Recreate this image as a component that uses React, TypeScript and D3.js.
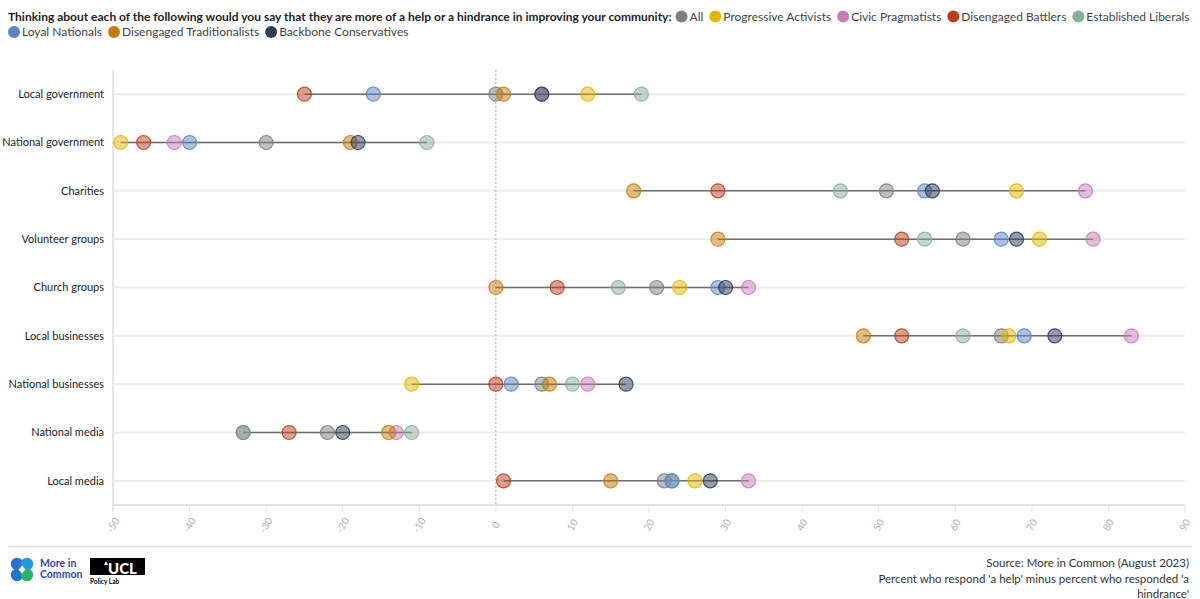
import { useEffect, useRef } from "react"
import * as d3 from "d3"

const categories = [
  "Local government",
  "National government",
  "Charities",
  "Volunteer groups",
  "Church groups",
  "Local businesses",
  "National businesses",
  "National media",
  "Local media",
]

const segments = [
  "All",
  "Progressive Activists",
  "Civic Pragmatists",
  "Disengaged Battlers",
  "Established Liberals",
  "Loyal Nationals",
  "Disengaged Traditionalists",
  "Backbone Conservatives",
]

const colors = ["#7f7f7f", "#e3b505", "#c57db8", "#b5401c", "#86ae98", "#5a85c4", "#c47c0e", "#2e3b55"]

// one array per segment, values in category order
const allValues = [0, -30, 51, 61, 21, 66, 6, -22, 22]
const progressiveActivists = [12, -49, 68, 71, 24, 67, -11, -33, 26]
const civicPragmatists = [6, -42, 77, 78, 33, 83, 12, -13, 33]
const disengagedBattlers = [-25, -46, 29, 53, 8, 53, 0, -27, 1]
const establishedLiberals = [19, -9, 45, 56, 16, 61, 10, -11, 23]
const loyalNationals = [-16, -40, 56, 66, 29, 69, 2, -33, 23]
const disengagedTraditionalists = [1, -19, 18, 29, 0, 48, 7, -14, 15]
const backboneConservatives = [6, -18, 57, 68, 30, 73, 17, -20, 28]

const seriesValues = [
  allValues,
  progressiveActivists,
  civicPragmatists,
  disengagedBattlers,
  establishedLiberals,
  loyalNationals,
  disengagedTraditionalists,
  backboneConservatives,
]

const xTicks = [-50, -40, -30, -20, -10, 0, 10, 20, 30, 40, 50, 60, 70, 80, 90]

const titleText =
  "Thinking about each of the following would you say that they are more of a help or a hindrance in improving your community:"
const sourceLines = [
  "Source: More in Common (August 2023)",
  "Percent who respond 'a help' minus percent who responded 'a",
  "hindrance'",
]

const FONT = "Lato, 'Open Sans', sans-serif"

export default function App() {
  const svgRef = useRef<SVGSVGElement>(null)

  useEffect(() => {
    if (!svgRef.current) return
    const svg = d3.select(svgRef.current)
    svg.selectAll("*").remove()

    const plot = { left: 113, right: 1185, top: 70, bottom: 505 }

    // Title + legend, flowing like text (legend wraps before "Loyal Nationals")
    const head = svg.append("g").attr("font-family", FONT)
    const title = head
      .append("text")
      .attr("x", 8)
      .attr("y", 20.5)
      .attr("font-size", "12px")
      .attr("font-weight", "700")
      .attr("fill", "#222")
      .text(titleText)
    let cx = 8 + (title.node() as SVGTextElement).getComputedTextLength() + 4
    let cy = 16.5
    segments.forEach((s, i) => {
      if (i === 5) {
        cx = 8
        cy += 15.5
      }
      head
        .append("circle")
        .attr("cx", cx + 6)
        .attr("cy", cy)
        .attr("r", 6)
        .attr("fill", colors[i])
      const t = head
        .append("text")
        .attr("x", cx + 14)
        .attr("y", cy + 4.3)
        .attr("font-size", "12px")
        .attr("fill", "#444")
        .text(s)
      cx += 14 + (t.node() as SVGTextElement).getComputedTextLength() + 6
    })

    const x = d3.scaleLinear().domain([-50, 90]).range([plot.left, plot.right])
    const y = d3.scaleBand().domain(categories).range([plot.top, plot.bottom]).padding(0)
    const rowY = (c: string) => (y(c) || 0) + y.bandwidth() / 2

    const chart = svg.append("g").attr("font-family", FONT)

    // row grid lines
    categories.forEach((c) => {
      chart
        .append("line")
        .attr("x1", plot.left)
        .attr("x2", plot.right)
        .attr("y1", rowY(c))
        .attr("y2", rowY(c))
        .attr("stroke", "#ececec")
        .attr("stroke-width", 2)
    })

    // left axis line
    chart
      .append("line")
      .attr("x1", plot.left)
      .attr("x2", plot.left)
      .attr("y1", plot.top)
      .attr("y2", plot.bottom + 6)
      .attr("stroke", "#e6e6e6")
      .attr("stroke-width", 2)

    // zero line
    chart
      .append("line")
      .attr("x1", x(0))
      .attr("x2", x(0))
      .attr("y1", plot.top)
      .attr("y2", plot.bottom)
      .attr("stroke", "#aaa")
      .attr("stroke-width", 1)
      .attr("stroke-dasharray", "2,2")

    // x axis
    const xAxis = chart.append("g").attr("transform", `translate(0,${plot.bottom})`)
    xAxis
      .append("line")
      .attr("x1", plot.left)
      .attr("x2", plot.right)
      .attr("stroke", "#e4e4e4")
      .attr("stroke-width", 2)
    xTicks.forEach((t) => {
      xAxis
        .append("line")
        .attr("x1", x(t))
        .attr("x2", x(t))
        .attr("y1", 0)
        .attr("y2", 7)
        .attr("stroke", "#e4e4e4")
      xAxis
        .append("text")
        .attr("transform", `translate(${x(t)},${20}) rotate(-60)`)
        .attr("text-anchor", "middle")
        .attr("dy", "0.35em")
        .attr("font-size", "10px")
        .attr("fill", "#b0b0b0")
        .text(t)
    })

    // category labels
    categories.forEach((c) => {
      chart
        .append("text")
        .attr("x", 104)
        .attr("y", rowY(c))
        .attr("dy", "0.35em")
        .attr("text-anchor", "end")
        .attr("font-size", "11px")
        .attr("fill", "#222")
        .text(c)
    })

    // dumbbell lines
    categories.forEach((c, ci) => {
      const vals = seriesValues.map((s) => s[ci])
      chart
        .append("line")
        .attr("x1", x(d3.min(vals) as number))
        .attr("x2", x(d3.max(vals) as number))
        .attr("y1", rowY(c))
        .attr("y2", rowY(c))
        .attr("stroke", "#6e6e6e")
        .attr("stroke-width", 1.5)
    })

    // dots
    seriesValues.forEach((vals, si) => {
      categories.forEach((c, ci) => {
        chart
          .append("circle")
          .attr("cx", x(vals[ci]))
          .attr("cy", rowY(c))
          .attr("r", 7)
          .attr("fill", colors[si])
          .attr("fill-opacity", 0.5)
          .attr("stroke", colors[si])
          .attr("stroke-opacity", 0.85)
          .attr("stroke-width", 1.2)
          .append("title")
          .text(`${segments[si]}: ${vals[ci]}`)
      })
    })

    // footer
    const foot = svg.append("g").attr("font-family", FONT)
    foot
      .append("line")
      .attr("x1", 8)
      .attr("x2", 1192)
      .attr("y1", 546.5)
      .attr("y2", 546.5)
      .attr("stroke", "#ddd")
      .attr("stroke-width", 1.5)

    sourceLines.forEach((l, i) => {
      foot
        .append("text")
        .attr("x", 1189)
        .attr("y", 567 + i * 15.5)
        .attr("text-anchor", "end")
        .attr("font-size", "11.5px")
        .attr("fill", "#333")
        .text(l)
    })

    // More in Common logo
    const mic = foot.append("g")
    const petals = [
      [17, 564, "#2c6fd0"],
      [27, 564, "#1d9bd8"],
      [17, 575, "#1f78c8"],
      [27, 575, "#2cb36a"],
    ]
    petals.forEach(([px, py, col]) => {
      mic.append("circle").attr("cx", px).attr("cy", py).attr("r", 6.2).attr("fill", col as string)
    })
    mic
      .append("path")
      .attr("d", "M22,565.5 L25.5,569.5 L22,573.5 L18.5,569.5 Z")
      .attr("fill", "#fff")
    mic
      .append("text")
      .attr("x", 40)
      .attr("y", 567)
      .attr("font-size", "10.5px")
      .attr("font-weight", "700")
      .attr("fill", "#3346a6")
      .text("More in")
    mic
      .append("text")
      .attr("x", 40)
      .attr("y", 578)
      .attr("font-size", "10.5px")
      .attr("font-weight", "700")
      .attr("fill", "#3346a6")
      .text("Common")

    // UCL Policy Lab logo
    const ucl = foot.append("g")
    ucl.append("rect").attr("x", 90).attr("y", 558).attr("width", 55).attr("height", 17).attr("fill", "#000")
    ucl
      .append("path")
      .attr("d", "M104,565 L106,561 L108,565 Z")
      .attr("fill", "#fff")
    ucl
      .append("text")
      .attr("x", 108)
      .attr("y", 573.5)
      .attr("font-size", "15px")
      .attr("font-weight", "900")
      .attr("fill", "#fff")
      .text("UCL")
    ucl
      .append("text")
      .attr("x", 90)
      .attr("y", 584)
      .attr("font-size", "6.5px")
      .attr("font-weight", "700")
      .attr("fill", "#000")
      .text("Policy Lab")
  }, [])

  return (
    <div style={{ position: "absolute", left: 0, top: 0 }}>
      <svg ref={svgRef} width={1200} height={599} style={{ display: "block", background: "#fff" }} />
    </div>
  )
}
